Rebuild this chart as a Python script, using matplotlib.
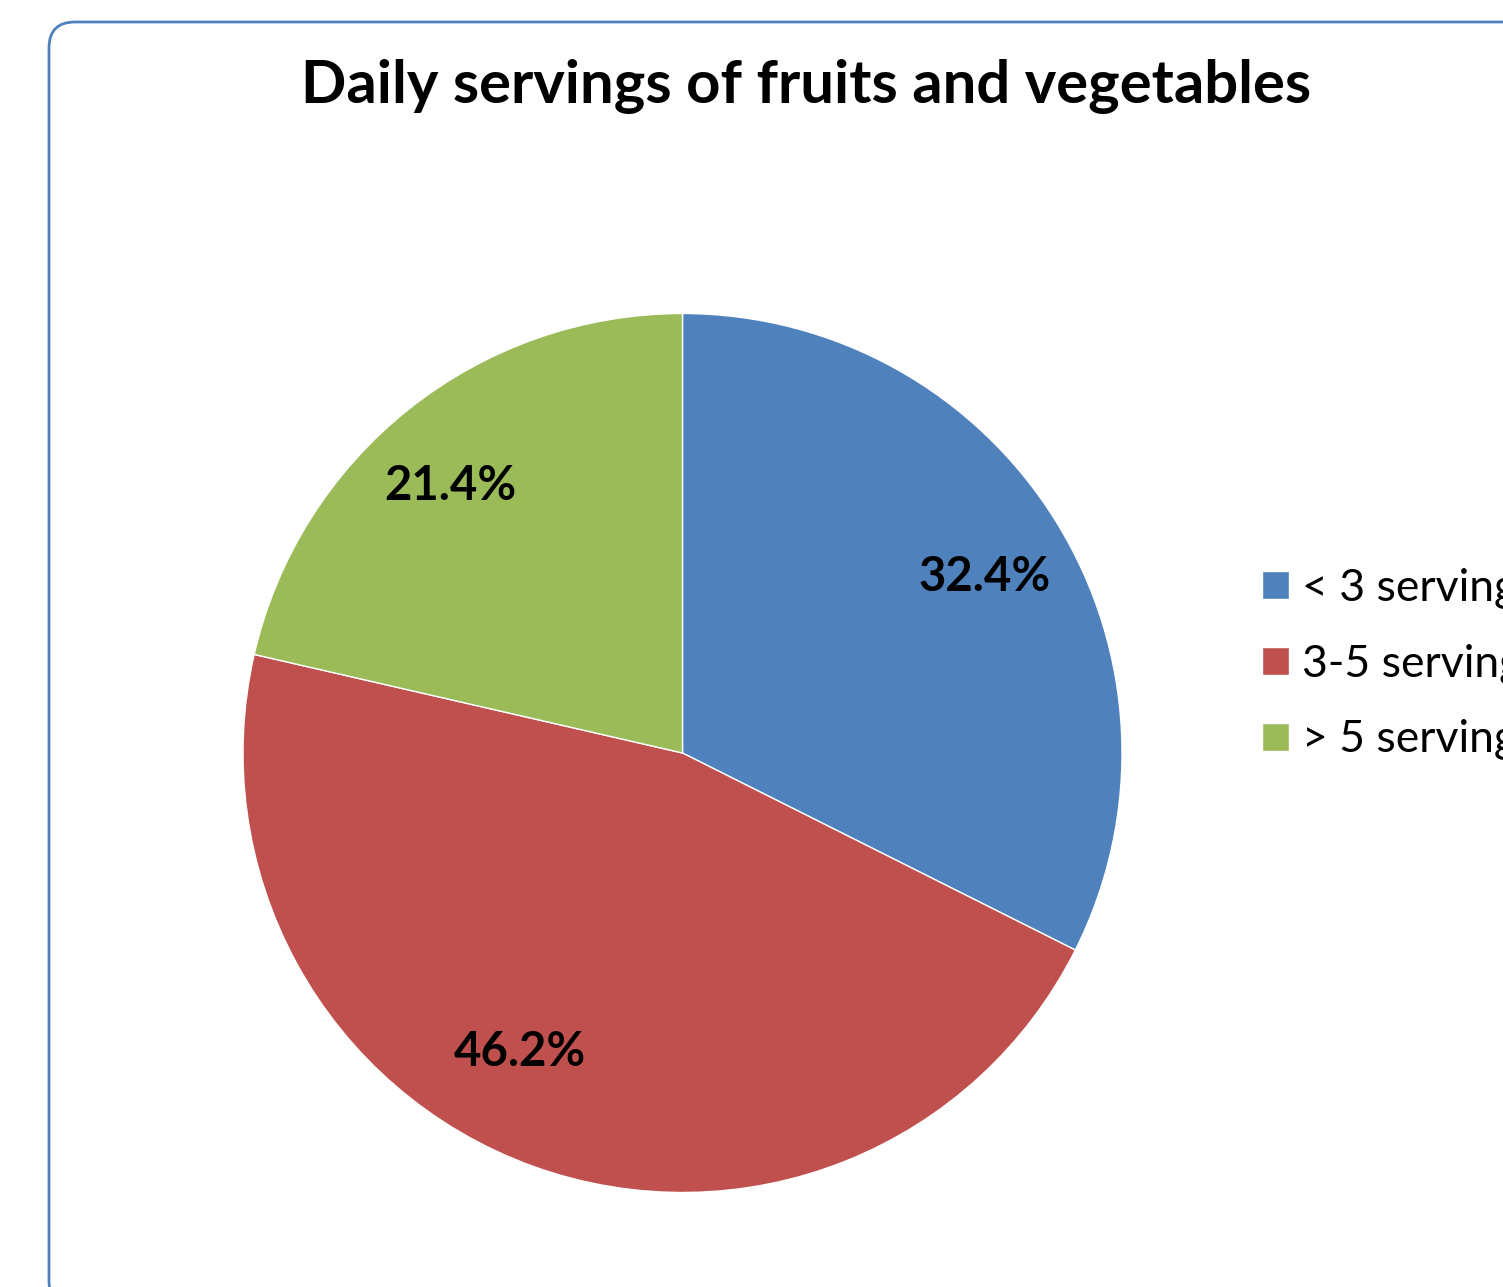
import matplotlib.pyplot as plt
from matplotlib.patches import FancyBboxPatch
import numpy as np

plt.rcParams['font.family'] = ['Lato', 'DejaVu Sans']

# ============================== DATA ============================== #
title = 'Daily servings of fruits and vegetables'
categories = ['< 3 servings', '3-5 servings', '> 5 servings']
shares = [32.4, 46.2, 21.4]
colors = ['#4F81BD', '#C0504D', '#9BBB59']

# label placement (angle in degrees, distance as fraction of radius)
label_pos = [(30.2, 0.796), (241.5, 0.775), (131.0, 0.806)]

W, H = 1503, 1287
fig = plt.figure(figsize=(W / 100, H / 100), dpi=100)

# chart border (rounded, running off the right / bottom edge)
border = FancyBboxPatch((0.49, -0.2), 15.3, 12.86 - 0.21 + 0.2,
                        boxstyle='round,pad=0,rounding_size=0.26',
                        transform=fig.dpi_scale_trans, fill=False,
                        edgecolor='#4F81BD', linewidth=2, clip_on=False)
fig.patches.append(border)

ax = fig.add_axes([0, 0, 1, 1])
cx, cy, r = 682.5, H - 753, 439.5
wedges, _ = ax.pie(shares, colors=colors, startangle=90, counterclock=False,
                   center=(cx, cy), radius=r,
                   wedgeprops=dict(edgecolor='white', linewidth=1))
ax.set_xlim(0, W)
ax.set_ylim(0, H)
ax.set_aspect('equal')
ax.axis('off')

for val, (ang, d) in zip(shares, label_pos):
    a = np.deg2rad(ang)
    ax.text(cx + d * r * np.cos(a), cy + d * r * np.sin(a), f'{val:.1f}%',
            ha='center', va='center', fontsize=34, fontweight='bold')

fig.text(806 / W, 1 - 86 / H, title, ha='center', va='center',
         fontsize=43, fontweight='bold')

lgd = fig.legend(wedges, categories, loc='upper left',
                 bbox_to_anchor=(1262 / W, 1 - 568 / H), frameon=False,
                 fontsize=32, handlelength=0.6, handleheight=0.6,
                 handletextpad=0.3, labelspacing=0.78, borderpad=0,
                 borderaxespad=0)

fig.savefig('out.png', dpi=100)
